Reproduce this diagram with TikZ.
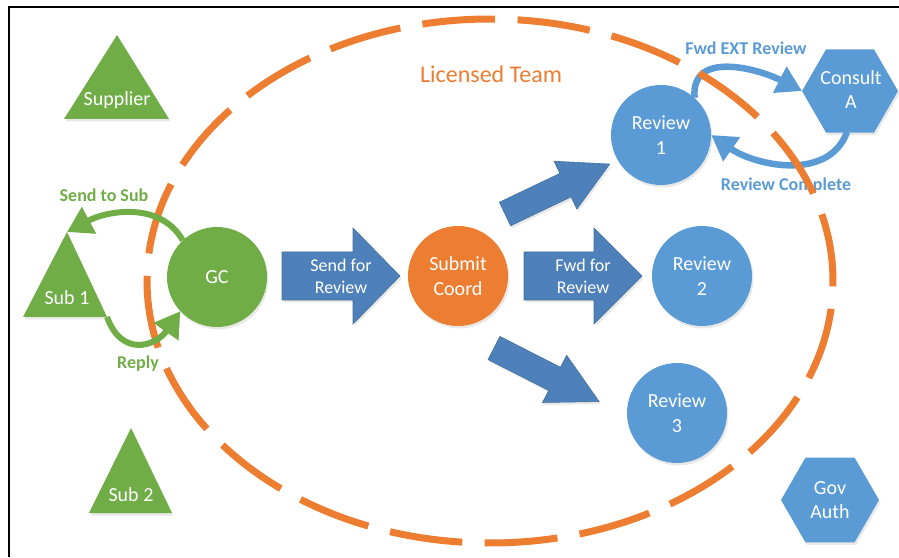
\documentclass[tikz,border=0pt]{standalone}
\usepackage{fontspec}
\setmainfont{Carlito}
\usetikzlibrary{arrows.meta,shadows}
\definecolor{cgreen}{HTML}{70AD47}
\definecolor{cblue}{HTML}{5B9BD5}
\definecolor{corange}{HTML}{ED7D31}
\definecolor{cdark}{HTML}{4E80BA}
\definecolor{cdarkedge}{HTML}{41719C}
\newcommand{\blockarr}[7]{%
  \begin{scope}[shift={(#1,#2)},rotate=#3]
    \fill[barrfill] (0,-#5) -- ({#4-#7},-#5) -- ({#4-#7},-#6) -- (#4,0) -- ({#4-#7},#6) -- ({#4-#7},#5) -- (0,#5) -- cycle;
  \end{scope}}
\tikzset{
  shad/.style={drop shadow={opacity=0.18,shadow xshift=1.5pt,shadow yshift=-2.5pt}},
  circ/.style={circle,minimum size=100pt,inner sep=0pt,text=white,align=center,
    font=\fontsize{20}{24.5}\selectfont,shad},
  wtext/.style={text=white,align=center,inner sep=0pt,font=\fontsize{20}{24}\selectfont},
  atext/.style={text=white,align=center,inner sep=0pt,font=\fontsize{18}{22}\selectfont},
  barrfill/.style={fill=cdark,draw=cdarkedge,line width=0.6pt,shad},
  garr/.style={draw=cgreen,line width=6pt,-{Triangle[length=25pt,width=29pt]}},
  barr/.style={draw=cblue,line width=6.5pt,-{Triangle[length=25pt,width=28pt]}},
  glabel/.style={text=cgreen,font=\bfseries\fontsize{18}{22}\selectfont,inner sep=0pt},
  blabel/.style={text=cblue,font=\bfseries\fontsize{18}{22}\selectfont,inner sep=0pt},
}
\begin{document}
\begin{tikzpicture}[x=1pt,y=1pt]
\useasboundingbox (0,0) rectangle (899,557);
% frame (top and left only)
\draw[line width=2.5pt] (9,0) -- (9,550) -- (899,550);

% triangles
\fill[cgreen,shad] (117,522) -- (169,438) -- (64,438) -- cycle;
\node[wtext] (supplier) at (117,457) {Supplier};
\coordinate (s1apex) at (67,325);
\coordinate (s1br) at (107,240);
\fill[cgreen,shad] (s1apex) -- (s1br) -- (23,240) -- cycle;
\node[wtext] (sub1) at (67,259) {Sub 1};
\fill[cgreen,shad] (131,129) -- (172,44) -- (89,44) -- cycle;
\node[wtext] (sub2) at (131,62) {Sub 2};

% hexagons
\fill[cblue,shad] (850,466) +(0:48) -- +(60:48) -- +(120:48) -- +(180:48) -- +(240:48) -- +(300:48) -- cycle;
\node[wtext] (consult) at (851,467) {Consult\\A};
\coordinate (consultW) at (802,466);
\coordinate (consultS) at (847,425);
\fill[cblue,shad] (830,57) +(0:49) -- +(60:49) -- +(120:49) -- +(180:49) -- +(240:49) -- +(300:49) -- cycle;
\node[wtext] (gov) at (830,57) {Gov\\Auth};

% circles
\node[circ,fill=cgreen] (gc) at (217,280) {GC};
\node[circ,fill=corange] (submit) at (458,281) {Submit\\Coord};
\node[circ,fill=cblue] (rev1) at (661,422) {Review\\1};
\node[circ,fill=cblue] (rev2) at (702,281) {Review\\2};
\node[circ,fill=cblue] (rev3) at (677,144) {Review\\3};

% block arrows
\blockarr{282}{281}{0}{118}{24}{48}{47}
\node[atext] (sendrev) at (341,281) {Send for\\Review};
\blockarr{524}{281}{0}{118}{24}{48}{48}
\node[atext] (fwdrev) at (583,281) {Fwd for\\Review};
\blockarr{505}{343}{25.5}{116}{13}{26.5}{49}
\blockarr{494}{209}{-27}{118}{13}{26.5}{50}

% blue curved arrows
\draw[barr] (rev1.48) to[out=95,in=153,looseness=1.15] (consultW);
\node[blabel] (fwdext) at (746,509) {Fwd EXT Review};
\draw[barr] (consultS) to[out=-110,in=-35] (rev1.east);
\node[blabel] (revcomp) at (786,371) {Review Complete};

% licensed team ellipse
\draw[corange,line width=7pt,dash pattern=on 73pt off 22.45pt]
  ([shift={(-1.1:343 and 262)}]490,276) arc[start angle=-1.1,end angle=358.9,x radius=343,y radius=262];
\node[text=corange,font=\fontsize{24}{28}\selectfont,inner sep=0pt] (lteam) at (491,483) {Licensed Team};

% green curved arrows
\draw[garr] (gc.133) to[out=120,in=28] (s1apex);
\node[glabel] (sendsub) at (104,362) {Send to Sub};
\draw[garr] (s1br) to[out=-70,in=-125,looseness=1.5] (gc.223);
\node[glabel] (reply) at (138,193) {Reply};
\end{tikzpicture}
\end{document}
